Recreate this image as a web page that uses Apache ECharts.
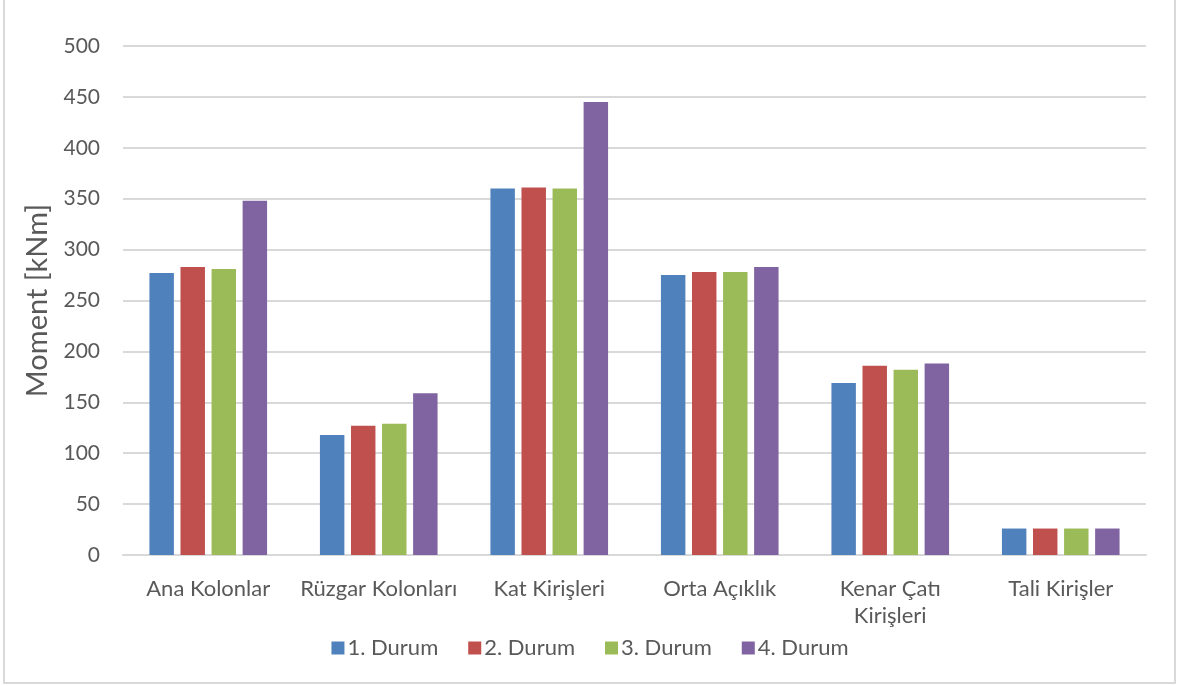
<!DOCTYPE html>
<html>
<head>
<meta charset="utf-8">
<script src="https://cdn.jsdelivr.net/npm/echarts@6/dist/echarts.min.js"></script>
<style>
  html, body { margin: 0; padding: 0; background: #ffffff; }
  #chart { width: 1180px; height: 686px; }
</style>
</head>
<body>
<div id="chart"></div>
<script>
// Element groups (x axis)
const categories = ['Ana Kolonlar', 'Rüzgar Kolonları', 'Kat Kirişleri', 'Orta Açıklık', 'Kenar Çatı\nKirişleri', 'Tali Kirişler'];

// Moment values per load case [kNm]
const durum1 = [277, 118, 360, 275, 169, 26];
const durum2 = [283, 127, 361, 278, 186, 26];
const durum3 = [281, 129, 360, 278, 182, 26];
const durum4 = [348, 159, 445, 283, 188, 26];

const seriesNames = ['1. Durum', '2. Durum', '3. Durum', '4. Durum'];
const seriesValues = [durum1, durum2, durum3, durum4];
const colors = ['#4f81bd', '#c0504d', '#9bbb59', '#8064a2'];

const yTicks = { min: 0, max: 500, interval: 50 };
const font = 'Lato, "Open Sans", sans-serif';

const chart = echarts.init(document.getElementById('chart'), null, { renderer: 'canvas' });

chart.setOption({
  animation: false,
  backgroundColor: '#ffffff',
  color: colors,
  graphic: [{
    type: 'rect',
    shape: { x: 4, y: -2, width: 1171, height: 685 },
    style: { fill: 'none', stroke: '#d9d9d9', lineWidth: 2 },
    silent: true
  }],
  grid: { left: 123, right: 34, top: 46, bottom: 131, containLabel: false },
  legend: {
    data: seriesNames,
    top: 632,
    left: 'center',
    itemWidth: 13,
    itemHeight: 13,
    itemGap: 30,
    icon: 'rect',
    textStyle: { fontFamily: font, fontSize: 22, color: '#595959', padding: [0, 0, 0, -2] }
  },
  xAxis: {
    type: 'category',
    data: categories,
    axisLine: { show: true, lineStyle: { color: '#d9d9d9', width: 2 } },
    axisTick: { show: false },
    axisLabel: { fontFamily: font, fontSize: 22, color: '#595959', margin: 20, lineHeight: 27, interval: 0 }
  },
  yAxis: {
    type: 'value',
    min: yTicks.min,
    max: yTicks.max,
    interval: yTicks.interval,
    name: 'Moment [kNm]',
    nameLocation: 'middle',
    nameGap: 66,
    nameTextStyle: { fontFamily: font, fontSize: 29, color: '#595959' },
    axisLine: { show: false },
    axisTick: { show: false },
    axisLabel: { fontFamily: font, fontSize: 21, color: '#595959', margin: 23 },
    splitLine: { lineStyle: { color: '#d9d9d9', width: 2 } }
  },
  series: seriesNames.map((name, i) => ({
    name: name,
    type: 'bar',
    data: seriesValues[i],
    barGap: '27%',
    barCategoryGap: '31%',
    itemStyle: { color: colors[i] }
  }))
});
</script>
</body>
</html>
